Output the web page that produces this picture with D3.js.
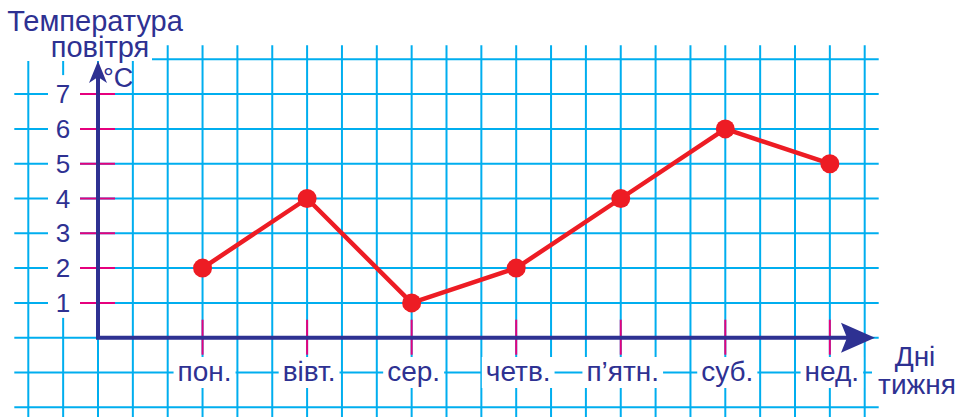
<!DOCTYPE html>
<html>
<head>
<meta charset="utf-8">
<script src="https://cdn.jsdelivr.net/npm/d3@7"></script>
<style>
  body { margin: 0; background: #fff; }
  svg { display: block; }
  text { font-family: 'Liberation Sans', Arial, sans-serif; fill: #2e3192; }
</style>
</head>
<body>
<div id="chart"></div>
<script>
const days = ['пон.', 'вівт.', 'сер.', 'четв.', 'п’ятн.', 'суб.', 'нед.'];
const temps = [2, 4, 1, 2, 4, 6, 5];
const yTicks = [1, 2, 3, 4, 5, 6, 7];
const yTitle = ['Температура', 'повітря'];
const xTitle = ['Дні', 'тижня'];

const W = 968, H = 417;
const cell = 34.85;
const navy = '#2e3192', cyan = '#00aeef', pink = '#e5007d', red = '#ed1c24';

// one cell per unit, origin of the axes at 98 / 337.7
const gx = d3.scaleLinear().domain([0, 1]).range([98, 98 + cell]);
const y = d3.scaleLinear().domain([0, 7]).range([337.7, 337.7 - 7 * 34.8]);
const gy = d3.scaleLinear().domain([0, 1]).range([337.7, 337.7 - 34.8]);
const x = i => gx(3 * (i + 1));

const svg = d3.select('#chart')
  .append('svg')
  .attr('width', W)
  .attr('height', H);

// grid paper
const grid = svg.append('g').attr('class', 'grid')
  .attr('stroke', cyan)
  .attr('stroke-width', 2);

grid.selectAll('.v')
  .data(d3.range(-2, 23))
  .enter().append('line')
  .attr('class', 'v')
  .attr('x1', d => gx(d)).attr('x2', d => gx(d))
  .attr('y1', gy(8) - 14).attr('y2', H);

grid.selectAll('.h')
  .data(d3.range(-2, 9))
  .enter().append('line')
  .attr('class', 'h')
  .attr('y1', d => gy(d)).attr('y2', d => gy(d))
  .attr('x1', gx(-2) - 14).attr('x2', gx(22) + 14);

// white patches behind the texts
const masks = svg.append('g').attr('fill', '#fff');
masks.append('rect').attr('x', 0).attr('y', 0).attr('width', 152).attr('height', 61);
masks.append('rect').attr('x', 48).attr('y', y(7) - 19).attr('width', 32).attr('height', y(1) - y(7) + 34);
masks.append('rect').attr('x', 872).attr('y', 345).attr('width', 96).attr('height', 55);

// ticks
svg.append('g')
  .selectAll('line')
  .data(yTicks)
  .enter().append('line')
  .attr('x1', 80).attr('x2', 115)
  .attr('y1', d => y(d)).attr('y2', d => y(d))
  .attr('stroke', pink)
  .attr('stroke-width', 2);

svg.append('g')
  .selectAll('line')
  .data(days)
  .enter().append('line')
  .attr('x1', (d, i) => x(i)).attr('x2', (d, i) => x(i))
  .attr('y1', y(0) - 18).attr('y2', y(0) + 17)
  .attr('stroke', pink)
  .attr('stroke-width', 2);

// axes with arrows
svg.append('path')
  .attr('d', `M${gx(0)},${y(0)}V76M${gx(0)},${y(0)}H846`)
  .attr('fill', 'none')
  .attr('stroke', navy)
  .attr('stroke-width', 4)
  .attr('stroke-linecap', 'square');

svg.append('path')
  .attr('d', `M${gx(0)},61L${gx(0) - 9},83L${gx(0)},77L${gx(0) + 9},83Z`)
  .attr('fill', navy);

svg.append('path')
  .attr('d', `M875,${y(0)}L841,${y(0) - 15}L847,${y(0)}L841,${y(0) + 15}Z`)
  .attr('fill', navy);

// y labels
svg.append('g')
  .selectAll('text')
  .data(yTicks)
  .enter().append('text')
  .attr('x', 63)
  .attr('y', d => y(d) + 9)
  .attr('text-anchor', 'middle')
  .style('font-size', '26px')
  .text(d => d);

// day labels with white boxes
const dayG = svg.append('g')
  .selectAll('g')
  .data(days)
  .enter().append('g');

dayG.append('text')
  .attr('x', (d, i) => x(i) + 2)
  .attr('y', 381)
  .attr('text-anchor', 'middle')
  .style('font-size', '28px')
  .text(d => d);

dayG.each(function() {
  const t = d3.select(this).select('text');
  const b = t.node().getBBox();
  d3.select(this).insert('rect', 'text')
    .attr('x', b.x - 4).attr('y', 357)
    .attr('width', b.width + 8).attr('height', 31)
    .attr('fill', '#fff');
});

// line
const line = d3.line()
  .x((d, i) => x(i))
  .y(d => y(d));

svg.append('path')
  .datum(temps)
  .attr('d', line)
  .attr('fill', 'none')
  .attr('stroke', red)
  .attr('stroke-width', 4.5)
  .attr('stroke-linejoin', 'round');

svg.append('g')
  .selectAll('circle')
  .data(temps)
  .enter().append('circle')
  .attr('cx', (d, i) => x(i))
  .attr('cy', d => y(d))
  .attr('r', 9.5)
  .attr('fill', red);

// titles
svg.append('text')
  .attr('x', 95).attr('y', 31)
  .attr('text-anchor', 'middle')
  .style('font-size', '29px')
  .text(yTitle[0]);
svg.append('text')
  .attr('x', 100).attr('y', 57)
  .attr('text-anchor', 'middle')
  .style('font-size', '29px')
  .text(yTitle[1]);

svg.append('text')
  .attr('x', 103).attr('y', 87)
  .style('font-size', '27px')
  .text('°C');

svg.append('text')
  .attr('x', 915).attr('y', 366)
  .attr('text-anchor', 'middle')
  .style('font-size', '28px')
  .text(xTitle[0]);
svg.append('text')
  .attr('x', 917).attr('y', 394)
  .attr('text-anchor', 'middle')
  .style('font-size', '28px')
  .text(xTitle[1]);
</script>
</body>
</html>
